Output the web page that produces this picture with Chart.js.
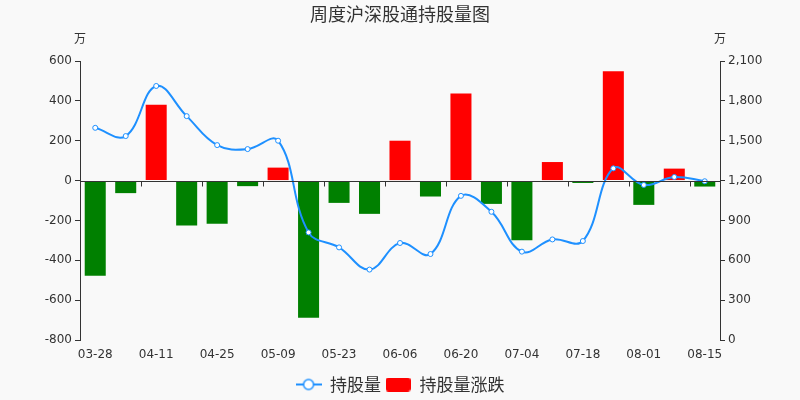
<!DOCTYPE html>
<html>
<head>
<meta charset="utf-8">
<script src="https://cdn.jsdelivr.net/npm/chart.js@4/dist/chart.umd.min.js"></script>
<style>
  html, body { margin: 0; padding: 0; background: #f9f9f9; }
  #wrap { width: 800px; height: 400px; }
</style>
</head>
<body>
<div id="wrap"><canvas id="c"></canvas></div>
<script>
// 周度数据
const weeks = ['03-28', '04-04', '04-11', '04-18', '04-25', '05-02', '05-09', '05-16', '05-23', '05-30', '06-06',
               '06-13', '06-20', '06-27', '07-04', '07-11', '07-18', '07-25', '08-01', '08-08', '08-15'];
// 持股量 (万, 右轴)
const holdings = [1597, 1535, 1912, 1685, 1467, 1437, 1500, 810, 697, 530, 730,
                  647, 1085, 965, 665, 757, 745, 1292, 1167, 1227, 1195];
// 持股量涨跌 (万, 左轴)
const changes = [-478, -63, 380, -225, -217, -28, 65, -688, -112, -167, 200,
                 -80, 437, -117, -300, 93, -12, 548, -122, 60, -30];
const leftTicks = [-800, -600, -400, -200, 0, 200, 400, 600];
const rightTicks = [0, 300, 600, 900, 1200, 1500, 1800, 2100];

const BLUE = '#1e90ff';
const RED = '#ff0000';
const GREEN = '#008000';
const AXIS = '#333';

// 图例图标
function lineIcon() {
    const c = document.createElement('canvas');
    c.width = 26; c.height = 14;
    const g = c.getContext('2d');
    g.strokeStyle = BLUE; g.lineWidth = 2;
    g.beginPath(); g.moveTo(0, 7); g.lineTo(26, 7); g.stroke();
    g.fillStyle = '#fff'; g.lineWidth = 1.5;
    g.beginPath(); g.arc(13, 7, 5, 0, Math.PI * 2); g.fill(); g.stroke();
    return c;
}
function boxIcon() {
    const c = document.createElement('canvas');
    c.width = 25; c.height = 14;
    const g = c.getContext('2d');
    g.fillStyle = RED;
    g.beginPath(); g.roundRect(0, 0, 25, 14, 3); g.fill();
    return c;
}

const extras = {
    id: 'extras',
    beforeDraw(chart) {
        const ctx = chart.ctx;
        ctx.save();
        ctx.fillStyle = '#f9f9f9';
        ctx.fillRect(0, 0, chart.width, chart.height);
        ctx.restore();
    },
    afterDatasetsDraw(chart) {
        const ctx = chart.ctx;
        const area = chart.chartArea;
        const y0 = Math.round(chart.scales.y.getPixelForValue(0)) + 0.5;
        ctx.save();
        ctx.strokeStyle = AXIS;
        ctx.lineWidth = 1;
        ctx.beginPath();
        ctx.moveTo(area.left, y0); ctx.lineTo(area.right, y0);
        const step = (area.right - area.left) / weeks.length;
        for (let k = 2; k <= weeks.length; k += 2) {
            const px = Math.round(area.left + k * step) + 0.5;
            ctx.moveTo(px, y0); ctx.lineTo(px, y0 + 5);
        }
        ctx.stroke();
        ctx.restore();
    },
    afterDraw(chart) {
        const ctx = chart.ctx;
        const area = chart.chartArea;
        ctx.save();
        ctx.fillStyle = '#333';
        ctx.textAlign = 'center';
        ctx.textBaseline = 'middle';
        ctx.font = '18px "Noto Sans CJK SC"';
        ctx.fillText('周度沪深股通持股量图', 400, 14);
        ctx.font = '12px "Noto Sans CJK SC"';
        ctx.fillText('万', area.left, 38);
        ctx.fillText('万', area.right, 38);
        ctx.restore();
    }
};

new Chart(document.getElementById('c'), {
    data: {
        labels: weeks,
        datasets: [
            {
                type: 'line',
                label: '持股量',
                data: holdings,
                yAxisID: 'y1',
                borderColor: BLUE,
                borderWidth: 2,
                tension: 0.4,
                pointRadius: 2.5,
                pointBorderWidth: 1,
                pointBackgroundColor: '#fff',
                pointBorderColor: BLUE,
                order: 0
            },
            {
                type: 'bar',
                label: '持股量涨跌',
                data: changes,
                yAxisID: 'y',
                backgroundColor: changes.map(v => v >= 0 ? RED : GREEN),
                categoryPercentage: 1,
                barPercentage: 0.69,
                order: 1
            }
        ]
    },
    plugins: [extras],
    options: {
        responsive: true,
        maintainAspectRatio: false,
        animation: false,
        layout: { padding: { top: 61, left: 0, right: 0, bottom: -3 } },
        plugins: {
            tooltip: { enabled: false },
            legend: {
                position: 'bottom',
                labels: {
                    usePointStyle: true,
                    pointStyleWidth: 26,
                    padding: 4,
                    color: '#333',
                    font: { size: 17, family: '"Noto Sans CJK SC"' },
                    generateLabels: () => [
                        { text: '持股量', pointStyle: lineIcon(), datasetIndex: 0, fontColor: '#333', lineWidth: 0, strokeStyle: 'transparent', fillStyle: 'transparent' },
                        { text: '持股量涨跌', pointStyle: boxIcon(), datasetIndex: 1, fontColor: '#333', lineWidth: 0, strokeStyle: 'transparent', fillStyle: 'transparent' }
                    ]
                }
            }
        },
        scales: {
            x: {
                grid: { display: false, drawTicks: false },
                border: { display: false },
                ticks: {
                    autoSkip: false,
                    maxRotation: 0,
                    padding: 8,
                    color: '#333',
                    font: { size: 12, family: '"DejaVu Sans"' },
                    callback: (v, i) => i % 2 === 0 ? weeks[i] : ''
                },
                afterFit: s => { s.height = 32; }
            },
            y: {
                position: 'left',
                min: leftTicks[0],
                max: leftTicks[leftTicks.length - 1],
                afterBuildTicks: s => { s.ticks = leftTicks.map(v => ({ value: v })); },
                grid: { drawOnChartArea: false, drawTicks: true, tickLength: 5, color: AXIS },
                border: { display: true, color: AXIS },
                ticks: { padding: 3, color: '#333', font: { size: 12, family: '"DejaVu Sans"' } },
                afterFit: s => { s.width = 80; }
            },
            y1: {
                position: 'right',
                min: rightTicks[0],
                max: rightTicks[rightTicks.length - 1],
                afterBuildTicks: s => { s.ticks = rightTicks.map(v => ({ value: v })); },
                grid: { drawOnChartArea: false, drawTicks: true, tickLength: 5, color: AXIS },
                border: { display: true, color: AXIS },
                ticks: { padding: 3, color: '#333', font: { size: 12, family: '"DejaVu Sans"' } },
                afterFit: s => { s.width = 80; }
            }
        }
    }
});
</script>
</body>
</html>
